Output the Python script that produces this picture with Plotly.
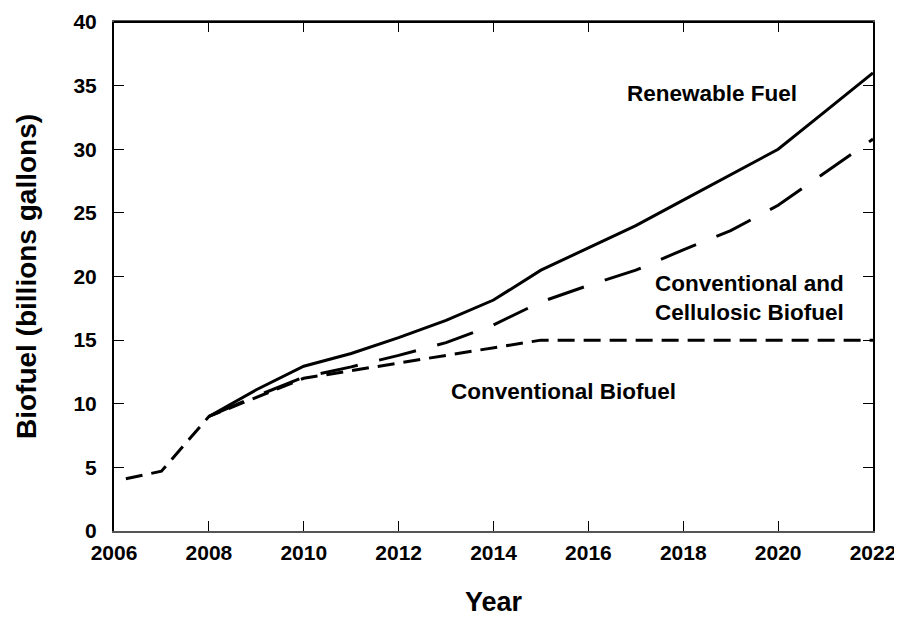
import plotly.graph_objects as go

years_renew = [2008, 2009, 2010, 2011, 2012, 2013, 2014, 2015, 2016, 2017, 2018, 2019, 2020, 2021, 2022]
renewable = [9.0, 11.1, 12.95, 13.95, 15.2, 16.55, 18.15, 20.5, 22.25, 24.0, 26.0, 28.0, 30.0, 33.0, 36.0]

years_cc = [2008, 2009, 2010, 2011, 2012, 2013, 2014, 2015, 2016, 2017, 2018, 2019, 2020, 2021, 2022]
conv_cell = [9.0, 10.6, 12.1, 12.9, 13.8, 14.8, 16.2, 18.0, 19.3, 20.5, 22.1, 23.6, 25.6, 28.2, 30.8]

years_conv = [2006.25, 2007, 2008, 2009, 2010, 2011, 2012, 2013, 2014, 2015, 2016, 2017, 2018, 2019, 2020, 2021, 2022]
conventional = [4.1, 4.7, 9.0, 10.5, 12.0, 12.6, 13.2, 13.8, 14.4, 15.0, 15.0, 15.0, 15.0, 15.0, 15.0, 15.0, 15.0]

x_ticks = [2006, 2008, 2010, 2012, 2014, 2016, 2018, 2020, 2022]
y_ticks = [0, 5, 10, 15, 20, 25, 30, 35, 40]

FONT = "Liberation Sans, Arial, sans-serif"

fig = go.Figure()
fig.add_trace(go.Scatter(x=years_conv, y=conventional, mode="lines",
                         line=dict(color="black", width=3, dash="17px,9px"),
                         name="Conventional Biofuel"))
fig.add_trace(go.Scatter(x=years_cc, y=conv_cell, mode="lines",
                         line=dict(color="black", width=3, dash="38px,22px"),
                         name="Conventional and Cellulosic Biofuel"))
fig.add_trace(go.Scatter(x=years_renew, y=renewable, mode="lines",
                         line=dict(color="black", width=3),
                         name="Renewable Fuel"))

ann_font = dict(family=FONT, size=22.5, color="black")
fig.add_annotation(x=2018.6, y=34.4, text="<b>Renewable Fuel</b>", showarrow=False, font=ann_font)
fig.add_annotation(x=2017.37, y=18.35, text="<b>Conventional and<br>Cellulosic Biofuel</b>",
                   showarrow=False, font=ann_font, xanchor="left", align="left")
fig.add_annotation(x=2015.47, y=11.0, text="<b>Conventional Biofuel</b>", showarrow=False, font=ann_font)

# top frame line
fig.add_shape(type="line", xref="paper", yref="paper", x0=0, x1=1, y0=1, y1=1,
              line=dict(color="black", width=2))

fig.update_layout(
    width=894, height=609,
    margin=dict(l=106, r=29, t=14, b=86),
    plot_bgcolor="white", paper_bgcolor="white",
    showlegend=False,
    font=dict(family=FONT, color="black"),
    xaxis=dict(range=[2006, 2022], tickvals=x_ticks, ticktext=[f"<b>{v}</b>" for v in x_ticks],
               ticks="inside", ticklen=10, tickcolor="black", tickwidth=1,
               showline=True, linecolor="#555555", linewidth=2, mirror="ticks",
               showgrid=False, zeroline=False, automargin=False,
               tickfont=dict(family=FONT, size=21, color="black"),
               ticklabelstandoff=2,
               title=dict(text="<b>Year</b>", font=dict(family=FONT, size=27, color="black"), standoff=30)),
    yaxis=dict(range=[0, 40], tickvals=y_ticks, ticktext=[f"<b>{v}</b>" for v in y_ticks],
               ticks="inside", ticklen=10, tickcolor="black", tickwidth=1,
               showline=True, linecolor="black", linewidth=2, mirror="ticks",
               showgrid=False, zeroline=False, automargin=False,
               tickfont=dict(family=FONT, size=21, color="black"),
               ticklabelstandoff=11,
               title=dict(text="<b>Biofuel (billions gallons)</b>", font=dict(family=FONT, size=28, color="black"), standoff=29)),
)

fig.write_html("out.html")
